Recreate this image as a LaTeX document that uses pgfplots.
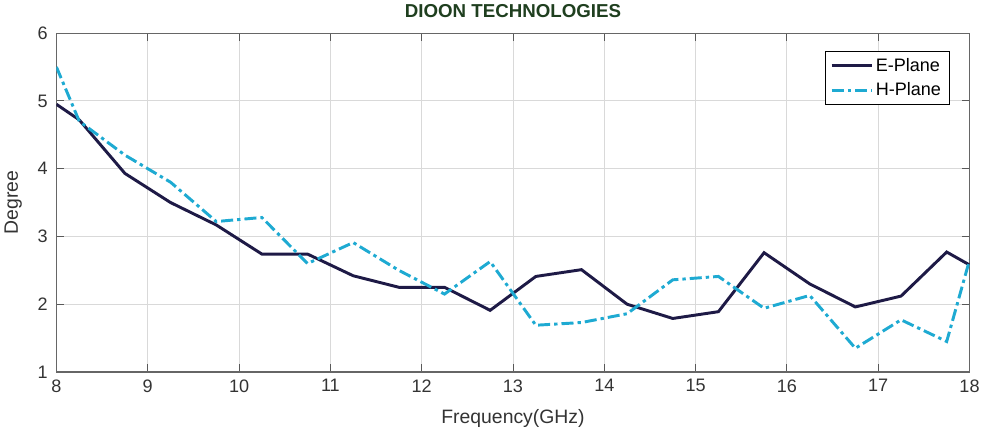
\documentclass[border=0pt]{standalone}
\usepackage{pgfplots}
\pgfplotsset{compat=1.18}
\usepackage{fontspec}
\setmainfont{Liberation Sans}
\definecolor{eplane}{HTML}{1E1A46}
\definecolor{hplane}{HTML}{1EAAD2}
\definecolor{titlegreen}{HTML}{1F3F1F}
\begin{document}
\begin{tikzpicture}
\begin{axis}[
  scale only axis,
  width=683pt, height=253.5pt,
  xmin=8, xmax=18, ymin=1, ymax=6,
  xtick={8,9,...,18}, ytick={1,2,...,6},
  tick align=inside,
  major tick length=6pt,
  grid=major,
  major grid style={gray!30, line width=0.7pt},
  axis line style={gray!80!black, line width=0.8pt},
  tick style={gray!70!black, line width=0.7pt},
  /pgf/number format/assume math mode=true,
  ticklabel style={font=\fontsize{13.5}{14}\selectfont, text=black!80},
  yticklabel style={xshift=-3pt},
  xticklabel style={yshift=-2pt},
  xlabel={Frequency(GHz)}, ylabel={Degree},
  label style={font=\fontsize{14.5}{15}\selectfont, text=black!80},
  xlabel style={yshift=-6pt},
  ylabel style={yshift=5pt},
  title={\textbf{DIOON TECHNOLOGIES}},
  title style={font=\fontsize{14}{15}\selectfont, text=titlegreen, yshift=2pt},
  legend style={at={(0.978,0.947)}, anchor=north east, draw=black, line width=0.6pt,
    font=\fontsize{13.5}{15}\selectfont, row sep=3pt, inner xsep=4pt, inner ysep=3pt},
  legend cell align=left,
  legend image code/.code={\draw[#1] (0cm,0cm) -- (1.05cm,0cm);},
]
\addplot[color=eplane, line width=2.2pt] coordinates {
(8,4.95) (8.25,4.72) (8.75,3.93) (9.25,3.5) (9.75,3.17) (10.25,2.74) (10.75,2.74)
(11.25,2.42) (11.75,2.25) (12.25,2.25) (12.75,1.91) (13.25,2.41) (13.75,2.51)
(14.25,2.0) (14.75,1.79) (15.25,1.89) (15.75,2.76) (16.25,2.3) (16.75,1.96)
(17.25,2.12) (17.75,2.77) (18,2.58)};
\addlegendentry{E-Plane}
\addplot[color=hplane, line width=2.2pt, dash pattern=on 9pt off 3pt on 2.5pt off 3pt] coordinates {
(8,5.5) (8.25,4.7) (8.75,4.2) (9.25,3.8) (9.75,3.22) (10.25,3.28) (10.75,2.6)
(11.25,2.91) (11.75,2.5) (12.25,2.15) (12.75,2.63) (13.25,1.69) (13.75,1.73)
(14.25,1.86) (14.75,2.36) (15.25,2.41) (15.75,1.94) (16.25,2.13) (16.75,1.35)
(17.25,1.77) (17.75,1.45) (18,2.65)};
\addlegendentry{H-Plane}
\end{axis}
\end{tikzpicture}
\end{document}
